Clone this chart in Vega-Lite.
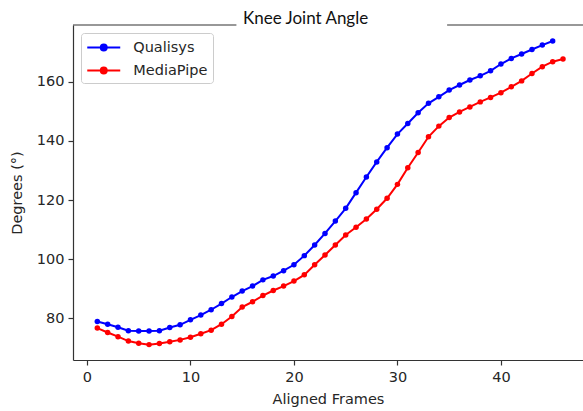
{
  "$schema": "https://vega.github.io/schema/vega-lite/v6.json",
  "width": 510,
  "height": 335,
  "autosize": {"type": "none"},
  "padding": {"left": 73, "top": 25, "right": 0, "bottom": 51},
  "background": "white",
  "config": {
    "view": {"stroke": null},
    "axis": {
      "grid": false,
      "domainColor": "#333333",
      "tickColor": "#333333",
      "labelColor": "#262626",
      "titleColor": "#262626",
      "labelFont": "DejaVu Sans",
      "titleFont": "DejaVu Sans",
      "labelFontSize": 14.5,
      "titleFontSize": 14.5,
      "titleFontWeight": "normal",
      "tickSize": 5,
      "domainWidth": 1.2,
      "tickWidth": 1.2
    },
    "legend": {
      "labelFont": "DejaVu Sans",
      "labelFontSize": 14.5,
      "labelColor": "#262626"
    }
  },
  "title": {
    "text": "Knee Joint Angle",
    "font": "Lato",
    "fontSize": 17,
    "fontWeight": "normal",
    "color": "#111111",
    "anchor": "start",
    "frame": "group",
    "dx": 170,
    "dy": 19,
    "baseline": "alphabetic",
    "offset": 2
  },
  "datasets": {
    "angles": [
      {"frame": 1, "series": "Qualisys", "angle": 78.9},
      {"frame": 2, "series": "Qualisys", "angle": 78.0},
      {"frame": 3, "series": "Qualisys", "angle": 77.0},
      {"frame": 4, "series": "Qualisys", "angle": 75.8},
      {"frame": 5, "series": "Qualisys", "angle": 75.7},
      {"frame": 6, "series": "Qualisys", "angle": 75.7},
      {"frame": 7, "series": "Qualisys", "angle": 75.8},
      {"frame": 8, "series": "Qualisys", "angle": 76.9},
      {"frame": 9, "series": "Qualisys", "angle": 77.8},
      {"frame": 10, "series": "Qualisys", "angle": 79.5},
      {"frame": 11, "series": "Qualisys", "angle": 81.1},
      {"frame": 12, "series": "Qualisys", "angle": 82.9},
      {"frame": 13, "series": "Qualisys", "angle": 85.0},
      {"frame": 14, "series": "Qualisys", "angle": 87.2},
      {"frame": 15, "series": "Qualisys", "angle": 89.2},
      {"frame": 16, "series": "Qualisys", "angle": 90.9},
      {"frame": 17, "series": "Qualisys", "angle": 93.0},
      {"frame": 18, "series": "Qualisys", "angle": 94.3},
      {"frame": 19, "series": "Qualisys", "angle": 96.1},
      {"frame": 20, "series": "Qualisys", "angle": 98.1},
      {"frame": 21, "series": "Qualisys", "angle": 101.2},
      {"frame": 22, "series": "Qualisys", "angle": 104.8},
      {"frame": 23, "series": "Qualisys", "angle": 108.7},
      {"frame": 24, "series": "Qualisys", "angle": 112.9},
      {"frame": 25, "series": "Qualisys", "angle": 117.2},
      {"frame": 26, "series": "Qualisys", "angle": 122.5},
      {"frame": 27, "series": "Qualisys", "angle": 127.8},
      {"frame": 28, "series": "Qualisys", "angle": 132.9},
      {"frame": 29, "series": "Qualisys", "angle": 137.7},
      {"frame": 30, "series": "Qualisys", "angle": 142.3},
      {"frame": 31, "series": "Qualisys", "angle": 145.9},
      {"frame": 32, "series": "Qualisys", "angle": 149.5},
      {"frame": 33, "series": "Qualisys", "angle": 152.7},
      {"frame": 34, "series": "Qualisys", "angle": 154.9},
      {"frame": 35, "series": "Qualisys", "angle": 157.2},
      {"frame": 36, "series": "Qualisys", "angle": 158.9},
      {"frame": 37, "series": "Qualisys", "angle": 160.6},
      {"frame": 38, "series": "Qualisys", "angle": 162.0},
      {"frame": 39, "series": "Qualisys", "angle": 163.7},
      {"frame": 40, "series": "Qualisys", "angle": 166.0},
      {"frame": 41, "series": "Qualisys", "angle": 167.9},
      {"frame": 42, "series": "Qualisys", "angle": 169.4},
      {"frame": 43, "series": "Qualisys", "angle": 170.9},
      {"frame": 44, "series": "Qualisys", "angle": 172.4},
      {"frame": 45, "series": "Qualisys", "angle": 173.8},
      {"frame": 1, "series": "MediaPipe", "angle": 76.7},
      {"frame": 2, "series": "MediaPipe", "angle": 75.2},
      {"frame": 3, "series": "MediaPipe", "angle": 73.8},
      {"frame": 4, "series": "MediaPipe", "angle": 72.3},
      {"frame": 5, "series": "MediaPipe", "angle": 71.6},
      {"frame": 6, "series": "MediaPipe", "angle": 71.1},
      {"frame": 7, "series": "MediaPipe", "angle": 71.5},
      {"frame": 8, "series": "MediaPipe", "angle": 72.1},
      {"frame": 9, "series": "MediaPipe", "angle": 72.7},
      {"frame": 10, "series": "MediaPipe", "angle": 73.6},
      {"frame": 11, "series": "MediaPipe", "angle": 74.8},
      {"frame": 12, "series": "MediaPipe", "angle": 76.0},
      {"frame": 13, "series": "MediaPipe", "angle": 78.0},
      {"frame": 14, "series": "MediaPipe", "angle": 80.6},
      {"frame": 15, "series": "MediaPipe", "angle": 83.8},
      {"frame": 16, "series": "MediaPipe", "angle": 85.6},
      {"frame": 17, "series": "MediaPipe", "angle": 87.7},
      {"frame": 18, "series": "MediaPipe", "angle": 89.4},
      {"frame": 19, "series": "MediaPipe", "angle": 90.9},
      {"frame": 20, "series": "MediaPipe", "angle": 92.6},
      {"frame": 21, "series": "MediaPipe", "angle": 94.7},
      {"frame": 22, "series": "MediaPipe", "angle": 98.1},
      {"frame": 23, "series": "MediaPipe", "angle": 101.4},
      {"frame": 24, "series": "MediaPipe", "angle": 104.8},
      {"frame": 25, "series": "MediaPipe", "angle": 108.2},
      {"frame": 26, "series": "MediaPipe", "angle": 110.8},
      {"frame": 27, "series": "MediaPipe", "angle": 113.6},
      {"frame": 28, "series": "MediaPipe", "angle": 116.9},
      {"frame": 29, "series": "MediaPipe", "angle": 120.6},
      {"frame": 30, "series": "MediaPipe", "angle": 125.3},
      {"frame": 31, "series": "MediaPipe", "angle": 130.9},
      {"frame": 32, "series": "MediaPipe", "angle": 136.1},
      {"frame": 33, "series": "MediaPipe", "angle": 141.4},
      {"frame": 34, "series": "MediaPipe", "angle": 145.0},
      {"frame": 35, "series": "MediaPipe", "angle": 147.9},
      {"frame": 36, "series": "MediaPipe", "angle": 149.8},
      {"frame": 37, "series": "MediaPipe", "angle": 151.5},
      {"frame": 38, "series": "MediaPipe", "angle": 153.2},
      {"frame": 39, "series": "MediaPipe", "angle": 154.7},
      {"frame": 40, "series": "MediaPipe", "angle": 156.3},
      {"frame": 41, "series": "MediaPipe", "angle": 158.3},
      {"frame": 42, "series": "MediaPipe", "angle": 160.3},
      {"frame": 43, "series": "MediaPipe", "angle": 162.8},
      {"frame": 44, "series": "MediaPipe", "angle": 165.1},
      {"frame": 45, "series": "MediaPipe", "angle": 166.8},
      {"frame": 46, "series": "MediaPipe", "angle": 167.7}
    ],
    "topspine": [
      {"seg": "left", "x": -1.35, "x2": 14.44},
      {"seg": "right", "x": 34.8, "x2": 47.93}
    ]
  },
  "layer": [
    {
      "data": {"name": "topspine"},
      "mark": {"type": "rule", "color": "#333333", "strokeWidth": 1.2},
      "encoding": {
        "x": {"field": "x", "type": "quantitative"},
        "x2": {"field": "x2"},
        "y": {"datum": 179.2, "type": "quantitative"},
        "detail": {"field": "seg", "type": "nominal"}
      }
    },
    {
      "data": {"name": "angles"},
      "mark": {"type": "line", "strokeWidth": 2, "point": {"filled": true, "size": 30}},
      "encoding": {
        "x": {
          "field": "frame",
          "type": "quantitative",
          "scale": {"domain": [-1.35, 47.93], "nice": false, "zero": false},
          "axis": {"values": [0, 10, 20, 30, 40], "title": "Aligned Frames", "labelPadding": 5, "titlePadding": 9}
        },
        "y": {
          "field": "angle",
          "type": "quantitative",
          "scale": {"domain": [65.9, 179.2], "nice": false, "zero": false},
          "axis": {"values": [80, 100, 120, 140, 160], "title": "Degrees (°)", "labelPadding": 4, "titlePadding": 12}
        },
        "color": {
          "field": "series",
          "type": "nominal",
          "scale": {"domain": ["Qualisys", "MediaPipe"], "range": ["#0000ff", "#ff0000"]},
          "legend": {
            "title": null,
            "orient": "top-left",
            "offset": 8,
            "padding": 5,
            "rowPadding": 6,
            "fillColor": "rgba(255,255,255,0.8)",
            "strokeColor": "#cccccc",
            "cornerRadius": 3,
            "symbolType": "M-2,0L2,0M-0.36,0A0.36,0.36 0 1,1 0.36,0A0.36,0.36 0 1,1 -0.36,0Z",
            "symbolSize": 272,
            "symbolOffset": 8.25,
            "symbolStrokeWidth": 2,
            "labelOffset": 20,
            "encode": {"symbols": {"update": {"fill": {"scale": "color", "field": "value"}, "opacity": {"value": 1}}}}
          }
        },
        "order": {"field": "frame", "type": "quantitative"}
      }
    }
  ]
}
